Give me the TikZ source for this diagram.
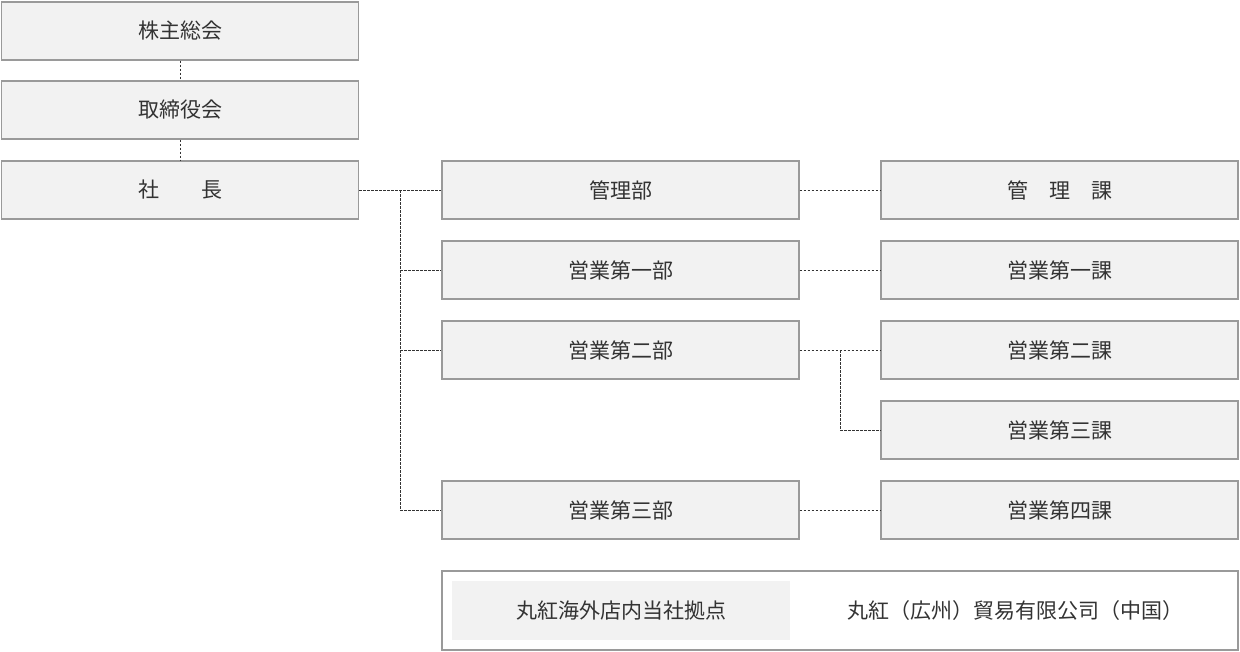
\documentclass[tikz,border=0pt]{standalone}
\usepackage{fontspec}
\setmainfont{Noto Sans CJK JP}
\usetikzlibrary{positioning}
\definecolor{boxfill}{HTML}{F2F2F2}
\definecolor{boxline}{HTML}{9A9A9A}
\definecolor{txt}{HTML}{333333}
\tikzset{
  box/.style={draw=boxline, fill=boxfill, line width=1.2pt, minimum width=357pt,
    minimum height=58pt, inner sep=0pt, text=txt, font=\fontsize{21}{21}\selectfont},
  link/.style={draw=txt, dashed, dash pattern=on 2.5pt off 1.5pt, line width=1pt}
}
\begin{document}
\begin{tikzpicture}[x=1pt,y=-1pt]
\useasboundingbox (0,0) rectangle (1240,651);
% left column
\node[box] (gm) at (180,31) {株主総会};
\node[box] (bd) at (180,110) {取締役会};
\node[box] (ceo) at (180,190) {社　　長};
% departments
\node[box] (kanri) at (620.5,190) {管理部};
\node[box] (eig1) at (620.5,270) {営業第一部};
\node[box] (eig2) at (620.5,350) {営業第二部};
\node[box] (eig3) at (620.5,510) {営業第三部};
% sections
\node[box] (ka0) at (1059.5,190) {管　理　課};
\node[box] (ka1) at (1059.5,270) {営業第一課};
\node[box] (ka2) at (1059.5,350) {営業第二課};
\node[box] (ka3) at (1059.5,430) {営業第三課};
\node[box] (ka4) at (1059.5,510) {営業第四課};
% overseas
\node[draw=boxline, line width=1.2pt, minimum width=796pt, minimum height=79pt, inner sep=0pt] (base) at (840,610.5) {};
\node[fill=boxfill, minimum width=338pt, minimum height=59pt, inner sep=0pt, text=txt,
  font=\fontsize{21}{21}\selectfont] (basel) at (621,610.5) {丸紅海外店内当社拠点};
\node[text=txt, font=\fontsize{21}{21}\selectfont] (baser) at (1015,610.5) {丸紅（広州）貿易有限公司（中国）};
% connectors
\coordinate (j1) at (400,190);
\coordinate (j2) at (840,350);
\draw[link] (gm) -- (bd);
\draw[link] (bd) -- (ceo);
\draw[link] (ceo) -- (kanri);
\draw[link] (j1) |- (eig1);
\draw[link] (j1) |- (eig2);
\draw[link] (j1) |- (eig3);
\draw[link] (kanri) -- (ka0);
\draw[link] (eig1) -- (ka1);
\draw[link] (eig2) -- (ka2);
\draw[link] (j2) |- (ka3);
\draw[link] (eig3) -- (ka4);
\end{tikzpicture}
\end{document}
